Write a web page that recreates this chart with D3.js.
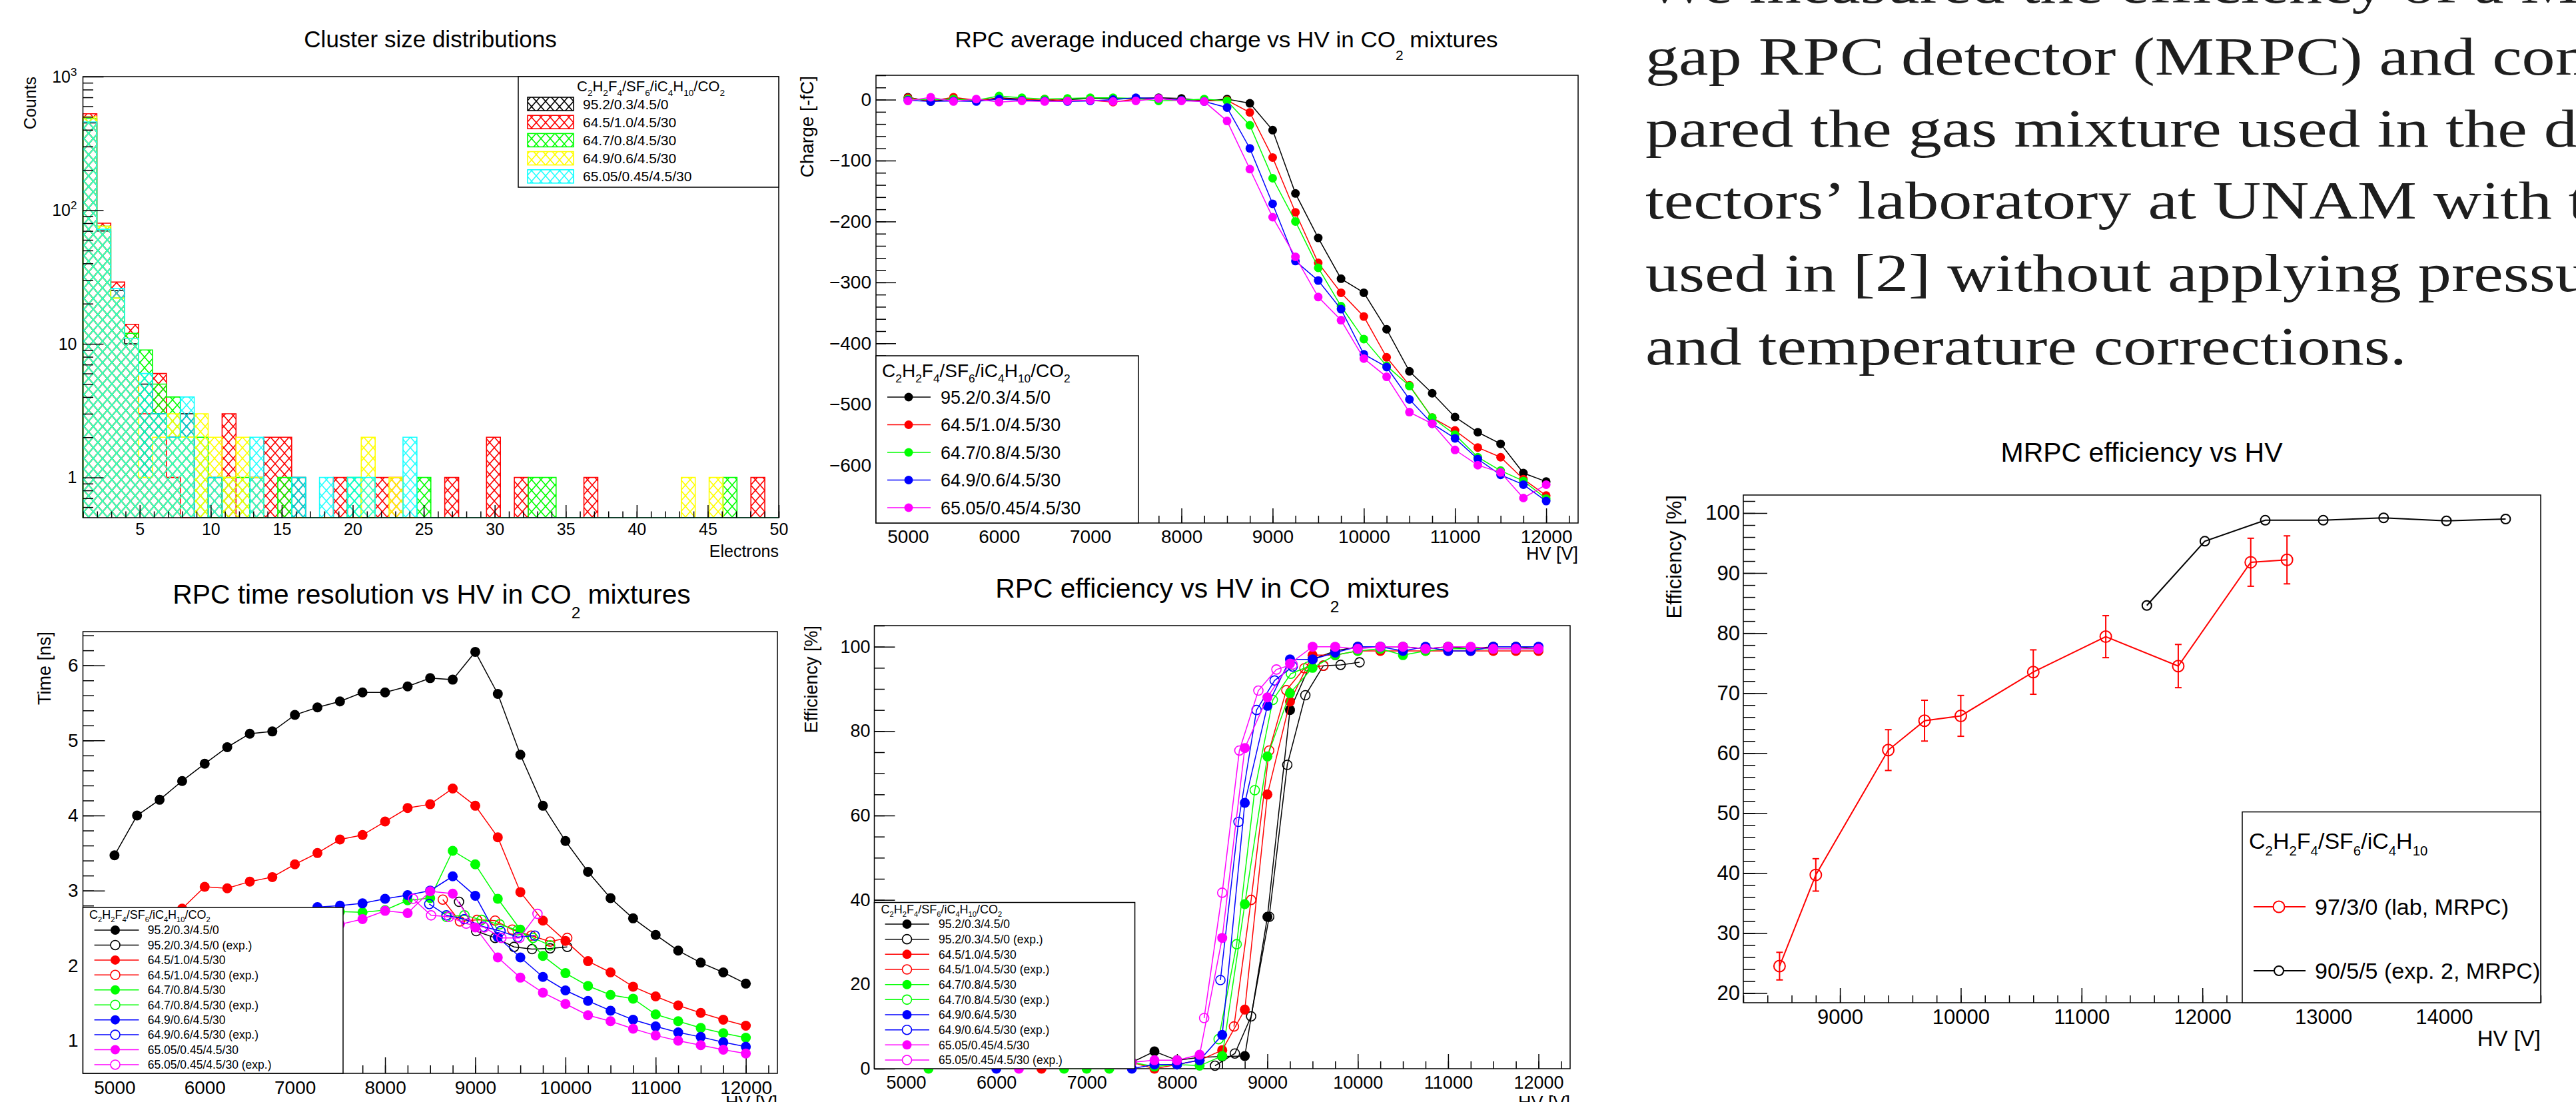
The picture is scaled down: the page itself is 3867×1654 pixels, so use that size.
<!DOCTYPE html>
<html>
<head>
<meta charset="utf-8">
<script src="https://cdn.jsdelivr.net/npm/d3@7"></script>
<style>
  body { margin: 0; background: #fff; }
  svg { display: block; }
</style>
</head>
<body>
<svg id="page" width="3867" height="1654"></svg>
<script>
// ---------- data ----------
const hvGrid = [5000, 5250, 5500, 5750, 6000, 6250, 6500, 6750, 7000, 7250, 7500, 7750, 8000, 8250,
  8500, 8750, 9000, 9250, 9500, 9750, 10000, 10250, 10500, 10750, 11000, 11250, 11500, 11750, 12000];
const hvTicks = [5000, 6000, 7000, 8000, 9000, 10000, 11000, 12000];

const mixLabels = ["95.2/0.3/4.5/0", "64.5/1.0/4.5/30", "64.7/0.8/4.5/30", "64.9/0.6/4.5/30", "65.05/0.45/4.5/30"];
const graphColors = ["#000000", "#ff0000", "#00ff00", "#0000ff", "#ff00ff"];
const clusterColors = ["#000000", "#ff0000", "#00ff00", "#ffff00", "#00ffff"];

// cluster size histograms, 50 bins between 1 and 50 electrons
const clusterBlack = [450, 70, 25, 10, 5, 3, 2, 3, 0, 1, 0, 0, 1, 0, 0, 1, 0, 0, 0, 0, 0, 0, 0, 0, 0,
  0, 0, 0, 0, 0, 0, 0, 0, 0, 0, 0, 0, 0, 0, 0, 0, 0, 0, 0, 0, 0, 0, 0, 0, 0];
const clusterRed = [527, 80, 29, 14, 3, 6, 1, 0, 0, 0, 3, 0, 0, 2, 2, 0, 0, 0, 1, 0, 0, 1, 1, 0, 0,
  0, 1, 0, 0, 2, 0, 1, 0, 0, 0, 0, 1, 0, 0, 0, 0, 0, 0, 0, 0, 0, 0, 0, 1, 0];
const clusterGreen = [485, 76, 22, 12, 9, 5, 4, 2, 2, 0, 1, 1, 0, 0, 1, 0, 0, 0, 0, 1, 0, 0, 0, 0, 1,
  0, 0, 0, 0, 0, 0, 0, 1, 1, 0, 0, 0, 0, 0, 0, 0, 0, 0, 0, 0, 0, 1, 0, 0, 0];
const clusterYellow = [500, 76, 22, 11, 1, 2, 3, 2, 3, 2, 1, 2, 1, 0, 0, 0, 0, 0, 0, 0, 2, 0, 1, 0, 0,
  0, 0, 0, 0, 0, 0, 0, 0, 0, 0, 0, 0, 0, 0, 0, 0, 0, 0, 1, 0, 1, 0, 0, 0, 0];
const clusterCyan = [458, 72, 26, 11, 6, 3, 2, 4, 0, 1, 0, 0, 2, 0, 0, 1, 0, 1, 0, 1, 1, 0, 0, 2, 0,
  0, 0, 0, 0, 0, 0, 0, 0, 0, 0, 0, 0, 0, 0, 0, 0, 0, 0, 0, 0, 0, 0, 0, 0, 0];
const clusterXTicks = [5, 10, 15, 20, 25, 30, 35, 40, 45, 50];
const clusterYTicks = [1, 10, 100, 1000];

// average induced charge [-fC]
const chargeBlack = [4, -3, 2, -2, 3, 1, -2, 0, 2, 2, 2, 3, 2, -2, 1, -6, -50, -154, -227, -294, -317, -377, -446, -482, -521, -546, -565, -613, -627];
const chargeRed = [3, -2, 4, -1, 2, 0, 1, -2, -1, -4, 1, 2, -1, -2, -1, -21, -95, -185, -268, -317, -356, -423, -469, -522, -543, -571, -587, -623, -650];
const chargeGreen = [1, 0, 1, -1, 6, 3, 1, 2, 3, 3, 2, -2, -1, 1, -2, -42, -129, -200, -276, -339, -393, -437, -470, -522, -550, -587, -609, -626, -655];
const chargeBlue = [-1, -3, -2, -3, 1, -1, -2, -3, -2, 0, 3, 2, -1, -3, -13, -80, -171, -265, -297, -344, -418, -439, -492, -532, -556, -590, -616, -632, -659];
const chargeMagenta = [-2, 4, -3, 1, -4, -2, -3, -2, -1, -3, -2, 2, -2, -3, -35, -114, -193, -258, -324, -362, -425, -455, -513, -532, -575, -600, -612, -654, -632];
const chargeTicks = [0, -100, -200, -300, -400, -500, -600];

// time resolution [ns]
const timeBlack = [3.47, 4.00, 4.21, 4.46, 4.69, 4.91, 5.09, 5.12, 5.34, 5.44, 5.52, 5.64, 5.64, 5.72, 5.83, 5.81, 6.18, 5.62, 4.81, 4.13, 3.66, 3.25, 2.90, 2.63, 2.41, 2.20, 2.04, 1.91, 1.76];
const timeRed = [2.05, 2.25, 2.45, 2.76, 3.05, 3.03, 3.12, 3.18, 3.35, 3.50, 3.68, 3.74, 3.92, 4.10, 4.15, 4.36, 4.13, 3.71, 2.98, 2.60, 2.33, 2.06, 1.91, 1.72, 1.59, 1.47, 1.37, 1.28, 1.20];
const timeGreen = [1.8, 1.9, 2.0, 2.1, 2.2, 2.3, 2.4, 2.45, 2.5, 2.6, 2.72, 2.71, 2.74, 2.87, 2.90, 3.53, 3.35, 2.89, 2.48, 2.13, 1.90, 1.73, 1.61, 1.56, 1.35, 1.26, 1.17, 1.10, 1.04];
const timeBlue = [1.9, 2.0, 2.1, 2.2, 2.3, 2.4, 2.5, 2.6, 2.7, 2.78, 2.80, 2.83, 2.89, 2.94, 3.00, 3.19, 2.93, 2.38, 2.11, 1.85, 1.67, 1.53, 1.40, 1.28, 1.19, 1.11, 1.05, 0.98, 0.92];
const timeMagenta = [1.7, 1.8, 1.9, 2.0, 2.1, 2.2, 2.3, 2.35, 2.4, 2.5, 2.55, 2.62, 2.73, 2.70, 2.99, 2.96, 2.51, 2.11, 1.84, 1.64, 1.49, 1.34, 1.26, 1.16, 1.07, 1.00, 0.94, 0.88, 0.83];
const timeExpHV = [
  [8820, 9010, 9220, 9430, 9630, 9830, 10020],
  [8640, 8830, 9020, 9220, 9410, 9620, 9830, 10020],
  [8680, 8880, 9070, 9270, 9470, 9640, 9830],
  [8490, 8680, 8880, 9090, 9280, 9470, 9660],
  [8310, 8510, 8710, 8900, 9100, 9290, 9490, 9690]];
const timeExp = [
  [2.85, 2.46, 2.37, 2.25, 2.22, 2.23, 2.25],
  [2.88, 2.59, 2.61, 2.60, 2.48, 2.40, 2.32, 2.37],
  [2.65, 2.67, 2.61, 2.55, 2.47, 2.37, 2.27],
  [2.82, 2.67, 2.62, 2.52, 2.46, 2.38, 2.40],
  [2.89, 2.67, 2.65, 2.56, 2.51, 2.37, 2.37, 2.69]];
const timeTicks = [1, 2, 3, 4, 5, 6];

// RPC efficiency [%]
const effBlack = [1.5, 2, 2, 1.5, 2, 2, 1.5, 2, 2, 1.5, 1.5, 4.1, 2.0, 2.7, 2.9, 3.0, 36, 85, 97, 99, 100, 100, 100, 99.5, 100, 99.5, 100, 100, 99.5];
const effRed = [2, 2, 1.5, 2, 2, 1.5, 0, 2, 1.5, 2, 1.5, 0, 1, 2, 4.4, 14, 65, 87, 98, 98, 99, 99, 99, 99, 99, 99, 99, 99, 99];
const effGreen = [1.5, 0, 2, 1.5, 2, 2, 1.5, 0, 0, 0, 1.5, 0.5, 1, 0.7, 3, 39, 74, 89, 95, 98, 99, 99.5, 98, 99, 99.5, 99.5, 99.5, 99.5, 99.5];
const effBlue = [2, 1.5, 2, 1.5, 0, 2, 1.5, 2, 2, 1.5, 0, 1, 1, 2, 8, 63, 86, 97, 97, 98.6, 100, 100, 99, 100, 99, 99, 100, 100, 100];
const effMagenta = [2, 2, 1.5, 2, 1.5, 0, 2, 1.5, 2, 2, 1.5, 2, 2, 3.3, 31, 76, 88, 96, 100, 100, 99.5, 100, 100, 99.5, 100, 100, 99.5, 99.5, 99.5];
const effExpHV = [
  [8420, 8640, 8820, 9020, 9220, 9420, 9620, 9810, 10020],
  [8630, 8820, 9020, 9210, 9410, 9620],
  [8460, 8660, 8860, 9060, 9260, 9450],
  [8480, 8680, 8880, 9080, 9280],
  [8300, 8500, 8690, 8900, 9100, 9280]];
const effExp = [
  [0.7, 3.6, 12.4, 36, 72, 88.5, 95.5, 95.7, 96.3],
  [10, 40, 75.4, 89.7, 94.9, 95.5],
  [7, 29.5, 66, 87.4, 93.6, 95.3],
  [21, 58.5, 85, 92, 95.3],
  [12, 41.7, 75.4, 89.6, 94.6, 95.8]];
const effTicks = [0, 20, 40, 60, 80, 100];

// MRPC efficiency
const mrpcLabHV = [8500, 8800, 9400, 9700, 10000, 10600, 11200, 11800, 12400, 12700];
const mrpcLabEff = [24.5, 39.7, 60.5, 65.4, 66.2, 73.5, 79.4, 74.5, 91.8, 92.2];
const mrpcLabErr = [2.3, 2.7, 3.4, 3.4, 3.4, 3.7, 3.5, 3.6, 4.0, 4.0];
const mrpcExpHV = [11540, 12020, 12520, 13000, 13500, 14020, 14510];
const mrpcExpEff = [84.6, 95.3, 98.8, 98.8, 99.2, 98.7, 99.0];
const mrpcXTicks = [9000, 10000, 11000, 12000, 13000, 14000];
const mrpcYTicks = [20, 30, 40, 50, 60, 70, 80, 90, 100];
const mrpcLabels = ["97/3/0 (lab, MRPC)", "90/5/5 (exp. 2, MRPC)"];

const headerCO2 = [["C", 0], ["2", 1], ["H", 0], ["2", 1], ["F", 0], ["4", 1], ["/SF", 0], ["6", 1],
  ["/iC", 0], ["4", 1], ["H", 0], ["10", 1], ["/CO", 0], ["2", 1]];
const headerMRPC = headerCO2.slice(0, 12);

const paraLines = [
  "We measured the efficiency of a Multi-",
  "gap RPC detector (MRPC) and com-",
  "pared the gas mixture used in the de-",
  "tectors\u2019 laboratory at UNAM with the one",
  "used in [2] without applying pressure",
  "and temperature corrections."];

// ---------- helpers ----------
const FONT = '"Liberation Sans", Arial, Helvetica, sans-serif';
const svg = d3.select("#page");
svg.append("rect").attr("width", 3867).attr("height", 1654).attr("fill", "#fff");
const defs = svg.append("defs");

function chem(t, parts, fs, subScale, subDy) {
  let down = false;
  parts.forEach(([s, sub]) => {
    const ts = t.append("tspan").text(s);
    if (sub) {
      ts.attr("font-size", fs * subScale);
      if (!down) { ts.attr("dy", fs * subDy); down = true; }
    } else if (down) {
      ts.attr("dy", -fs * subDy); down = false;
    }
  });
  return t;
}

function label(g, x, y, fs, anchor, sx, rot) {
  return g.append("text")
    .attr("transform", `translate(${x},${y})` + (rot ? ` rotate(${rot})` : "") + ` scale(${sx || 1},1)`)
    .attr("font-family", FONT).attr("font-size", fs).attr("text-anchor", anchor).attr("fill", "#000");
}

function scales(p) {
  const x = d3.scaleLinear().domain(p.xd).range([p.x0, p.x1]);
  const y = (p.log ? d3.scaleLog() : d3.scaleLinear()).domain(p.yd).range([p.y1, p.y0]);
  return { x, y };
}

function drawAxes(g, p, s, o) {
  const ax = g.append("g").attr("transform", `translate(0,${p.y1})`);
  ax.append("g").call(d3.axisBottom(s.x).tickValues(o.xMinor).tickSize(-o.xLen / 2).tickFormat(""));
  ax.append("g").call(d3.axisBottom(s.x).tickValues(o.xMajor).tickSize(-o.xLen).tickPadding(o.xPad).tickFormat(o.xFmt));
  const ay = g.append("g").attr("transform", `translate(${p.x0},0)`);
  ay.append("g").call(d3.axisLeft(s.y).tickValues(o.yMinor).tickSize(-o.yLen / 2).tickFormat(""));
  const yMaj = ay.append("g").call(d3.axisLeft(s.y).tickValues(o.yMajor).tickSize(-o.yLen).tickPadding(o.yPad).tickFormat(o.yFmt));
  [ax, ay].forEach(a => {
    a.selectAll(".domain").remove();
    a.selectAll("line").attr("stroke", "#000").attr("stroke-width", 1.5);
    a.selectAll("g").attr("font-size", o.fs).attr("font-family", FONT);
    a.selectAll("text").attr("fill", "#000");
  });
  return yMaj;
}

function frame(g, p) {
  g.append("rect").attr("x", p.x0).attr("y", p.y0).attr("width", p.x1 - p.x0).attr("height", p.y1 - p.y0)
    .attr("fill", "none").attr("stroke", "#000").attr("stroke-width", 1.5);
}

function graph(g, s, xs, ys, color, r, open, lw) {
  const pts = xs.map((v, i) => [s.x(v), s.y(ys[i])]);
  g.append("path").attr("d", d3.line()(pts)).attr("fill", "none").attr("stroke", color).attr("stroke-width", lw || 1.5);
  g.append("g").selectAll("circle").data(pts).join("circle")
    .attr("cx", d => d[0]).attr("cy", d => d[1]).attr("r", r)
    .attr("fill", open ? "none" : color)
    .attr("stroke", open ? color : "none").attr("stroke-width", open ? 1.6 : 0);
}

function legendBox(g, x0, y0, x1, y1) {
  g.append("rect").attr("x", x0).attr("y", y0).attr("width", x1 - x0).attr("height", y1 - y0)
    .attr("fill", "#fff").attr("stroke", "#000").attr("stroke-width", 1.5);
}

function legendGraphRow(g, yy, L, color, open, text) {
  g.append("line").attr("x1", L.l0).attr("x2", L.l1).attr("y1", yy).attr("y2", yy)
    .attr("stroke", color).attr("stroke-width", L.lw || 1.5);
  g.append("circle").attr("cx", L.m).attr("cy", yy).attr("r", L.r)
    .attr("fill", open ? "#fff" : color).attr("stroke", open ? color : "none").attr("stroke-width", open ? (L.sw || 1.6) : 0);
  label(g, L.t, yy + L.fs * 0.36, L.fs, "start", L.sx).text(text);
}

// hatch patterns for histograms
clusterColors.forEach((c, i) => {
  const pat = defs.append("pattern").attr("id", "hatch" + i).attr("patternUnits", "userSpaceOnUse")
    .attr("width", 14).attr("height", 16);
  pat.append("path").attr("d", "M0,0L14,16M14,0L0,16M-7,8L0,16M7,-8L14,0M7,24L14,16M21,8L14,0")
    .attr("stroke", c).attr("stroke-width", 1.6).attr("fill", "none")
    .attr("stroke-opacity", i === 4 ? 0.85 : 1);
});

// ---------- panel 1: cluster size ----------
{
  const p = { x0: 124.5, y0: 115, x1: 1169, y1: 777, xd: [1, 50], yd: [0.5, 1000], log: true };
  const s = scales(p);
  const g = svg.append("g");
  label(g, 646, 71, 35, "middle").text("Cluster size distributions");
  const series = [clusterBlack, clusterRed, clusterGreen, clusterYellow, clusterCyan];
  const binW = (p.xd[1] - p.xd[0]) / clusterRed.length;
  const yb = s.y(p.yd[0]);
  series.forEach((counts, k) => {
    const pts = [[s.x(p.xd[0]), yb]];
    counts.forEach((c, i) => {
      const yy = c > 0 ? s.y(c) : yb;
      pts.push([s.x(p.xd[0] + i * binW), yy], [s.x(p.xd[0] + (i + 1) * binW), yy]);
    });
    pts.push([s.x(p.xd[1]), yb]);
    g.append("path").attr("d", d3.line()(pts) + "Z").attr("fill", `url(#hatch${k})`).attr("stroke", "none");
    g.append("path").attr("d", d3.line()(pts)).attr("fill", "none").attr("stroke", clusterColors[k])
      .attr("stroke-width", 1.6).attr("stroke-opacity", k === 4 ? 0.9 : 1);
  });
  const minorY = [0.6, 0.7, 0.8, 0.9, 2, 3, 4, 5, 6, 7, 8, 9, 20, 30, 40, 50, 60, 70, 80, 90, 200, 300, 400, 500, 600, 700, 800, 900];
  const yMaj = drawAxes(g, p, s, {
    xMajor: clusterXTicks, xMinor: d3.range(1, 51, 1), xLen: 19, xPad: 8, xFmt: d3.format("d"),
    yMajor: clusterYTicks, yMinor: minorY, yLen: 31, yPad: 9, yFmt: d => (d >= 100 ? "10" : String(d)), fs: 25
  });
  yMaj.selectAll(".tick text").filter(d => d >= 100).append("tspan")
    .attr("dy", -10).attr("font-size", 17).text(d => Math.round(Math.log10(d)));
  frame(g, p);
  label(g, 54, p.y0, 25, "end", 1, -90).text("Counts");
  label(g, p.x1, 836, 25, "end").text("Electrons");
  // legend
  legendBox(g, 778, 115, 1169, 281);
  chem(label(g, 977, 137, 22, "middle"), headerCO2, 22, 0.62, 0.32);
  mixLabels.forEach((t, i) => {
    const yy = 156 + i * 27.2;
    g.append("rect").attr("x", 792).attr("y", yy - 10).attr("width", 69).attr("height", 20)
      .attr("fill", `url(#hatch${i})`).attr("stroke", clusterColors[i]).attr("stroke-width", 1.6);
    label(g, 875, yy + 7.5, 21, "start").text(t);
  });
}

// ---------- panel 2: induced charge ----------
{
  const p = { x0: 1315, y0: 113, x1: 2369, y1: 785, xd: [4650, 12350], yd: [-695, 40] };
  const s = scales(p);
  const g = svg.append("g");
  chem(label(g, 1841, 71, 34, "middle", 1.03), [["RPC average induced charge vs HV in CO", 0], ["2", 1], [" mixtures", 0]], 34, 0.6, 0.55);
  drawAxes(g, p, s, {
    xMajor: hvTicks, xMinor: d3.range(4750, 12351, 250), xLen: 22, xPad: 10, xFmt: d3.format("d"),
    yMajor: chargeTicks, yMinor: d3.range(-680, 41, 20), yLen: 30, yPad: 7, yFmt: d3.format("d"), fs: 28
  });
  frame(g, p);
  [chargeBlack, chargeRed, chargeGreen, chargeBlue, chargeMagenta].forEach((ys, k) =>
    graph(g, s, hvGrid, ys, graphColors[k], 6.5, false, 1.5));
  label(g, 1221, p.y0 + 1, 28, "end", 1, -90).text("Charge [-fC]");
  label(g, p.x1, 840, 27, "end").text("HV [V]");
  legendBox(g, 1315, 534, 1709, 785);
  chem(label(g, 1324, 566, 28, "start"), headerCO2, 28, 0.62, 0.3);
  const L = { l0: 1332, l1: 1397, m: 1364, t: 1412, r: 6.5, fs: 27 };
  mixLabels.forEach((t, i) => legendGraphRow(g, 596 + i * 41.5, L, graphColors[i], false, t));
}

// ---------- panel 3: time resolution ----------
{
  const p = { x0: 124.5, y0: 948, x1: 1167, y1: 1611, xd: [4650, 12350], yd: [0.565, 6.45] };
  const s = scales(p);
  const g = svg.append("g");
  chem(label(g, 648, 906, 40, "middle", 1.02), [["RPC time resolution vs HV in CO", 0], ["2", 1], [" mixtures", 0]], 40, 0.6, 0.55);
  drawAxes(g, p, s, {
    xMajor: hvTicks, xMinor: d3.range(4750, 12351, 250), xLen: 24, xPad: 11, xFmt: d3.format("d"),
    yMajor: timeTicks, yMinor: d3.range(0.6, 6.45, 0.2), yLen: 33, yPad: 7, yFmt: d3.format("d"), fs: 28
  });
  frame(g, p);
  [timeBlack, timeRed, timeGreen, timeBlue, timeMagenta].forEach((ys, k) => {
    graph(g, s, hvGrid, ys, graphColors[k], 7.5, false, 1.5);
    graph(g, s, timeExpHV[k], timeExp[k], graphColors[k], 7, true, 1.5);
  });
  label(g, 76, p.y0, 27, "end", 1, -90).text("Time [ns]");
  label(g, p.x1, 1664, 27, "end").text("HV [V]");
  legendBox(g, 124.5, 1362, 515, 1611);
  chem(label(g, 134, 1379, 18, "start"), headerCO2, 18, 0.62, 0.3);
  const L = { l0: 141.6, l1: 208.5, m: 173, t: 221.7, r: 7, fs: 17.5 };
  mixLabels.forEach((t, i) => {
    legendGraphRow(g, 1396 + (2 * i) * 22.44, L, graphColors[i], false, t);
    legendGraphRow(g, 1396 + (2 * i + 1) * 22.44, L, graphColors[i], true, t + " (exp.)");
  });
}

// ---------- panel 4: RPC efficiency ----------
{
  const p = { x0: 1312.5, y0: 939, x1: 2357, y1: 1604, xd: [4650, 12350], yd: [0, 105] };
  const s = scales(p);
  const g = svg.append("g");
  chem(label(g, 1835, 897, 40, "middle", 1.02), [["RPC efficiency vs HV in CO", 0], ["2", 1], [" mixtures", 0]], 40, 0.6, 0.55);
  drawAxes(g, p, s, {
    xMajor: hvTicks, xMinor: d3.range(4750, 12351, 250), xLen: 22, xPad: 11, xFmt: d3.format("d"),
    yMajor: effTicks, yMinor: d3.range(0, 106, 5), yLen: 31, yPad: 6, yFmt: d3.format("d"), fs: 27
  });
  frame(g, p);
  [effBlack, effRed, effGreen, effBlue, effMagenta].forEach((ys, k) => {
    graph(g, s, hvGrid, ys, graphColors[k], 7.5, false, 1.5);
    graph(g, s, effExpHV[k], effExp[k], graphColors[k], 7, true, 1.5);
  });
  label(g, 1227, p.y0, 27, "end", 1, -90).text("Efficiency [%]");
  label(g, p.x1, 1664, 27, "end").text("HV [V]");
  legendBox(g, 1312.5, 1354.5, 1703.6, 1604);
  chem(label(g, 1322.5, 1371, 18, "start"), headerCO2, 18, 0.62, 0.3);
  const L = { l0: 1328.6, l1: 1395, m: 1361.5, t: 1409, r: 7, fs: 17.5 };
  mixLabels.forEach((t, i) => {
    legendGraphRow(g, 1387 + (2 * i) * 22.67, L, graphColors[i], false, t);
    legendGraphRow(g, 1387 + (2 * i + 1) * 22.67, L, graphColors[i], true, t + " (exp.)");
  });
}

// ---------- panel 5: MRPC efficiency ----------
{
  const p = { x0: 2617, y0: 743, x1: 3814, y1: 1505, xd: [8200, 14800], yd: [18.4, 103] };
  const s = scales(p);
  const g = svg.append("g");
  label(g, 3215, 693, 41, "middle").text("MRPC efficiency vs HV");
  drawAxes(g, p, s, {
    xMajor: mrpcXTicks, xMinor: d3.range(8200, 14801, 200), xLen: 22, xPad: 10, xFmt: d3.format("d"),
    yMajor: mrpcYTicks, yMinor: d3.range(20, 103.1, 2), yLen: 36, yPad: 5, yFmt: d3.format("d"), fs: 31
  });
  frame(g, p);
  // red with error bars
  const eb = g.append("g").attr("stroke", "#ff0000").attr("stroke-width", 2);
  mrpcLabHV.forEach((v, i) => {
    const xx = s.x(v), lo = s.y(mrpcLabEff[i] - mrpcLabErr[i]), hi = s.y(mrpcLabEff[i] + mrpcLabErr[i]);
    eb.append("line").attr("x1", xx).attr("x2", xx).attr("y1", lo).attr("y2", hi);
    eb.append("line").attr("x1", xx - 5).attr("x2", xx + 5).attr("y1", lo).attr("y2", lo);
    eb.append("line").attr("x1", xx - 5).attr("x2", xx + 5).attr("y1", hi).attr("y2", hi);
  });
  graph(g, s, mrpcLabHV, mrpcLabEff, "#ff0000", 8.5, true, 2);
  graph(g, s, mrpcExpHV, mrpcExpEff, "#000000", 7, true, 2);
  g.selectAll("circle").attr("stroke-width", 2);
  label(g, 2524, p.y0, 31, "end", 1, -90).text("Efficiency [%]");
  label(g, p.x1, 1570, 33, "end").text("HV [V]");
  legendBox(g, 3366, 1218.6, 3814, 1505);
  chem(label(g, 3376, 1274, 34, "start"), headerMRPC, 34, 0.6, 0.3);
  legendGraphRow(g, 1361, { l0: 3383, l1: 3461, m: 3421, t: 3475, r: 8.5, fs: 34, lw: 2, sw: 2 }, "#ff0000", true, mrpcLabels[0]);
  legendGraphRow(g, 1457, { l0: 3383, l1: 3461, m: 3421, t: 3475, r: 7, fs: 34, lw: 2, sw: 2 }, "#000000", true, mrpcLabels[1]);
}

// ---------- paragraph ----------
{
  const g = svg.append("g").attr("font-family", '"Liberation Serif", "Times New Roman", serif')
    .attr("font-size", 80).attr("fill", "#1e1e1e");
  const base = [4, 112, 220, 328, 437, 547];
  const lines = paraLines.map(t => g.append("text").text(t));
  const k = 1143 / lines[5].node().getComputedTextLength();
  lines.forEach((t, i) => t.attr("transform", `translate(2470,${base[i]}) scale(${k},1)`));
}
</script>
</body>
</html>
